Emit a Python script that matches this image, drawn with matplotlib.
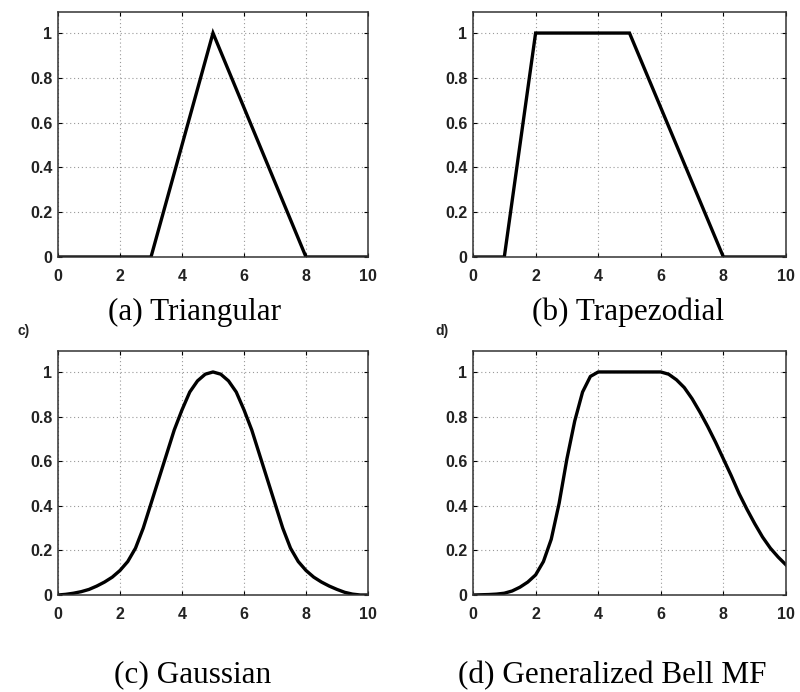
import matplotlib.pyplot as plt

# (a) triangular
tri_x = [0, 3, 5, 8, 10]
tri_y = [0, 0, 1, 0, 0]

# (b) trapezoidal
trap_x = [0, 1, 2, 5, 8, 10]
trap_y = [0, 0, 1, 1, 0, 0]

# (c) gaussian
gauss_x = [0, 0.25, 0.5, 0.75, 1, 1.25, 1.5, 1.75, 2, 2.25, 2.5, 2.75, 3, 3.25, 3.5, 3.75,
           4, 4.25, 4.5, 4.75, 5, 5.25, 5.5, 5.75, 6, 6.25, 6.5, 6.75, 7, 7.25, 7.5, 7.75,
           8, 8.25, 8.5, 8.75, 9, 9.25, 9.5, 9.75, 10]
gauss_y = [0, 0.003, 0.008, 0.015, 0.025, 0.04, 0.058, 0.08, 0.11, 0.15, 0.21, 0.30, 0.41, 0.52, 0.63, 0.74,
           0.83, 0.91, 0.96, 0.99, 1.0, 0.99, 0.96, 0.91, 0.83, 0.74, 0.63, 0.52, 0.41, 0.30, 0.21, 0.15,
           0.11, 0.08, 0.058, 0.04, 0.025, 0.012, 0.004, 0, 0]

# (d) generalized bell
bell_x = [0, 0.25, 0.5, 0.75, 1, 1.25, 1.5, 1.75, 2, 2.25, 2.5, 2.75, 3, 3.25, 3.5, 3.75,
          4, 4.5, 5, 5.5, 6, 6.25, 6.5, 6.75, 7, 7.25, 7.5, 7.75, 8, 8.25, 8.5, 8.75,
          9, 9.25, 9.5, 9.75, 10]
bell_y = [0, 0.001, 0.002, 0.004, 0.008, 0.018, 0.035, 0.058, 0.09, 0.15, 0.25, 0.41, 0.61, 0.78, 0.91, 0.98,
          1.0, 1.0, 1.0, 1.0, 1.0, 0.99, 0.965, 0.93, 0.88, 0.82, 0.755, 0.685, 0.61, 0.535, 0.455, 0.385,
          0.32, 0.26, 0.21, 0.17, 0.135]

x_ticks = [0, 2, 4, 6, 8, 10]
y_ticks = [0, 0.2, 0.4, 0.6, 0.8, 1]
y_tick_labels = ['0', '0.2', '0.4', '0.6', '0.8', '1']

captions = ['(a) Triangular', '(b) Trapezodial', '(c) Gaussian', '(d) Generalized Bell MF']

W, H = 800, 692
fig = plt.figure(figsize=(W / 100, H / 100), dpi=100)

# axes boxes in pixels: left, top, right, bottom
boxes = [(58, 12, 368, 257), (473, 12, 786, 257),
         (58, 351, 368, 595), (473, 351, 786, 595)]
data = [(tri_x, tri_y), (trap_x, trap_y), (gauss_x, gauss_y), (bell_x, bell_y)]
joins = ['miter', 'miter', 'round', 'round']

for (l, t, r, b), (xs, ys), js in zip(boxes, data, joins):
    ax = fig.add_axes([l / W, (H - b) / H, (r - l) / W, (b - t) / H])
    ax.plot(xs, ys, color='black', lw=2.4, solid_joinstyle=js)
    ax.set_xlim(0, 10)
    ax.set_ylim(0, 1.094)
    ax.set_xticks(x_ticks)
    ax.set_yticks(y_ticks)
    ax.set_yticklabels(y_tick_labels)
    ax.grid(True, color='0.6', lw=0.8, linestyle=(0, (1, 2.5)))
    ax.tick_params(direction='in', length=3, top=True, right=True, labelcolor='#222222')
    ax.tick_params(axis='x', pad=8.5)
    ax.tick_params(axis='y', pad=4)
    for lab in ax.get_xticklabels() + ax.get_yticklabels():
        lab.set_fontfamily('Liberation Sans')
        lab.set_fontweight('bold')
        lab.set_fontsize(11.5)
    for sp in ax.spines.values():
        sp.set_linewidth(1.1)
        sp.set_color('#333333')

# captions (pixel centre x, baseline y)
cap_pos = [(195, 320), (628, 320), (193, 682), (612, 683)]
for txt, (cx, cy) in zip(captions, cap_pos):
    fig.text(cx / W, (H - cy) / H, txt, ha='center', va='baseline',
             fontfamily='Liberation Serif', fontsize=22.5, color='black')

fig.text(24 / W, (H - 331) / H, 'c)', ha='center', va='center',
         fontfamily='Liberation Sans', fontweight='bold', fontsize=10, color='#222222')
fig.text(442 / W, (H - 331) / H, 'd)', ha='center', va='center',
         fontfamily='Liberation Sans', fontweight='bold', fontsize=10, color='#222222')

plt.savefig('out.png', dpi=100)
